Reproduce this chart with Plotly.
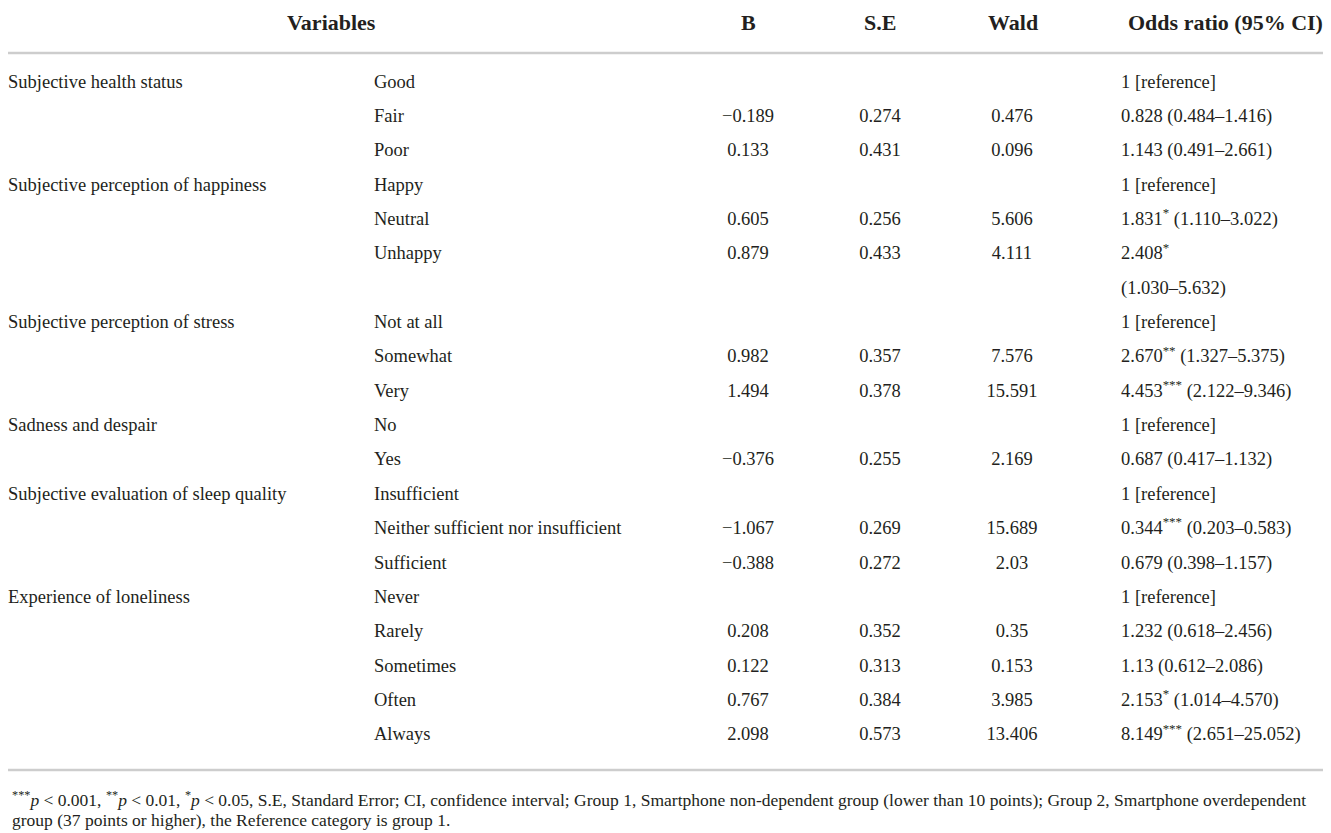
import plotly.graph_objects as go

# Datos de la tabla (una entrada por fila)
variables = ["Subjective health status", "", "",
             "Subjective perception of happiness", "", "", "",
             "Subjective perception of stress", "", "",
             "Sadness and despair", "",
             "Subjective evaluation of sleep quality", "", "",
             "Experience of loneliness", "", "", "", ""]
categories = ["Good", "Fair", "Poor",
              "Happy", "Neutral", "Unhappy", "",
              "Not at all", "Somewhat", "Very",
              "No", "Yes",
              "Insufficient", "Neither sufficient nor insufficient", "Sufficient",
              "Never", "Rarely", "Sometimes", "Often", "Always"]
b_values = ["", "\u22120.189", "0.133",
            "", "0.605", "0.879", "",
            "", "0.982", "1.494",
            "", "\u22120.376",
            "", "\u22121.067", "\u22120.388",
            "", "0.208", "0.122", "0.767", "2.098"]
se_values = ["", "0.274", "0.431",
             "", "0.256", "0.433", "",
             "", "0.357", "0.378",
             "", "0.255",
             "", "0.269", "0.272",
             "", "0.352", "0.313", "0.384", "0.573"]
wald_values = ["", "0.476", "0.096",
               "", "5.606", "4.111", "",
               "", "7.576", "15.591",
               "", "2.169",
               "", "15.689", "2.03",
               "", "0.35", "0.153", "3.985", "13.406"]
odds_ratios = ["1 [reference]", "0.828 (0.484\u20131.416)", "1.143 (0.491\u20132.661)",
               "1 [reference]", "1.831<sup>*</sup> (1.110\u20133.022)", "2.408<sup>*</sup>",
               "(1.030\u20135.632)",
               "1 [reference]", "2.670<sup>**</sup> (1.327\u20135.375)",
               "4.453<sup>***</sup> (2.122\u20139.346)",
               "1 [reference]", "0.687 (0.417\u20131.132)",
               "1 [reference]", "0.344<sup>***</sup> (0.203\u20130.583)",
               "0.679 (0.398\u20131.157)",
               "1 [reference]", "1.232 (0.618\u20132.456)", "1.13 (0.612\u20132.086)",
               "2.153<sup>*</sup> (1.014\u20134.570)", "8.149<sup>***</sup> (2.651\u201325.052)"]
headers = ["Variables", "B", "S.E", "Wald", "Odds ratio (95% CI)"]
footnote_lines = [
    "<sup>***</sup><i>p</i> < 0.001, <sup>**</sup><i>p</i> < 0.01, "
    "<sup>*</sup><i>p</i> < 0.05, S.E, Standard Error; CI, confidence interval; "
    "Group 1, Smartphone non-dependent group (lower than 10 points); "
    "Group 2, Smartphone overdependent",
    "group (37 points or higher), the Reference category is group 1.",
]

W, H = 1331, 833
TXT = "#231f20"
FONT = "Liberation Serif"
ROW_H = 34.35   # alto de fila en px
FIRST = 75      # centro de la primera fila en px

fig = go.Figure()


def add_col(x, texts, pos):
    # solo las celdas con contenido
    idx = [i for i, t in enumerate(texts) if t]
    fig.add_trace(go.Scatter(
        x=[x] * len(idx), y=idx, text=[texts[i] for i in idx], mode="text",
        textposition=pos, textfont=dict(family=FONT, size=18.5, color=TXT),
        hoverinfo="skip", showlegend=False))


add_col(0, variables, "middle right")
add_col(366, categories, "middle right")
add_col(740, b_values, "middle center")
add_col(872, se_values, "middle center")
add_col(1004, wald_values, "middle center")
add_col(1113, odds_ratios, "middle right")

# Encabezado
head_y = 1 - 15 / H
for txt, x, anchor in zip(headers, [323, 740, 872, 1005, 1118],
                          ["center", "center", "center", "center", "left"]):
    fig.add_annotation(x=x, y=head_y, xref="x", yref="paper", text="<b>%s</b>" % txt,
                       showarrow=False, xanchor=anchor, yanchor="middle",
                       font=dict(family=FONT, size=22, color=TXT))

# Nota al pie
for line, yp in zip(footnote_lines, [791, 812]):
    fig.add_annotation(x=2, y=1 - yp / H, xref="x", yref="paper", text=line,
                       showarrow=False, xanchor="left", yanchor="middle", align="left",
                       font=dict(family=FONT, size=17.5, color=TXT))

# Líneas horizontales
for yp in [45, 762]:
    fig.add_shape(type="line", xref="paper", yref="paper", x0=0, x1=1,
                  y0=1 - yp / H, y1=1 - yp / H, line=dict(color="#cdcdcd", width=2.5))

fig.update_layout(
    width=W, height=H,
    margin=dict(l=0, r=0, t=0, b=0),
    plot_bgcolor="white", paper_bgcolor="white",
    xaxis=dict(range=[0, W], visible=False, fixedrange=True),
    yaxis=dict(range=[(H - FIRST) / ROW_H, -FIRST / ROW_H], visible=False, fixedrange=True),
)

fig.write_html("out.html")
